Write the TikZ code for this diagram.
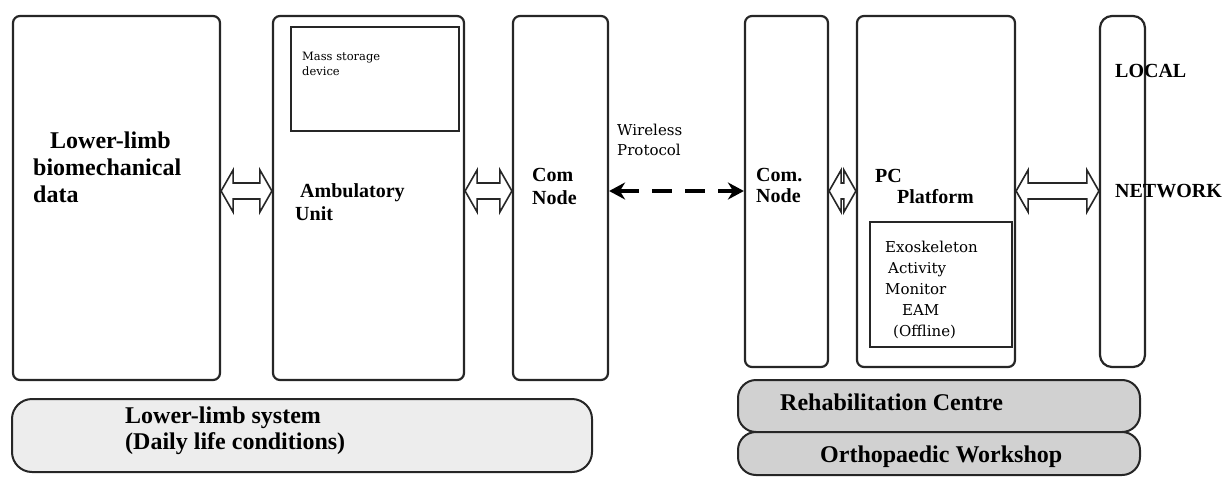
\documentclass[tikz,border=0pt]{standalone}
\usepackage{fontspec}
\setmainfont{Liberation Serif}
\newfontfamily\smallserif{DejaVu Serif}
\usetikzlibrary{arrows.meta,calc,positioning}

\begin{document}
\begin{tikzpicture}[x=1pt,y=-1pt,
  blk/.style={rectangle,rounded corners=7pt,draw=black!85,line width=2.2pt,inner sep=0pt},
  inbox/.style={rectangle,draw=black!85,line width=2.2pt,inner sep=0pt},
  bar/.style={rectangle,rounded corners=20pt,draw=black!85,line width=2pt,inner sep=0pt},
  txt/.style={inner sep=0pt,anchor=north west,align=left},
  big/.style={txt,font=\fontsize{24}{27}\selectfont\bfseries},
  mid/.style={txt,font=\fontsize{20}{23}\selectfont\bfseries},
  sml/.style={txt,font=\smallserif\fontsize{15}{21}\selectfont},
  hollow/.style={draw=black!85,line width=1.6pt,fill=white,
    to path={-- ($(\tikztostart)+(12,-21)$) -- ($(\tikztostart)+(12,-8)$)
      -- ($(\tikztotarget)+(-12,-8)$) -- ($(\tikztotarget)+(-12,-21)$)
      -- (\tikztotarget) -- ($(\tikztotarget)+(-12,21)$) -- ($(\tikztotarget)+(-12,8)$)
      -- ($(\tikztostart)+(12,8)$) -- ($(\tikztostart)+(12,21)$) -- cycle}},
  wireless/.style={line width=4pt,dash pattern=on 20pt off 13pt,
    {Stealth[length=16pt,width=17pt]}-{Stealth[length=16pt,width=17pt]}}]
\useasboundingbox (0,0) rectangle (1230,476);

% blocks
\node[blk,minimum width=207pt,minimum height=364pt] (data) at (116.5,198) {};
\node[blk,minimum width=191pt,minimum height=364pt] (amb) at (368.5,198) {};
\node[blk,minimum width=95pt,minimum height=364pt] (com) at (560.5,198) {};
\node[blk,minimum width=83pt,minimum height=351pt] (comr) at (786.5,191.5) {};
\node[blk,minimum width=158pt,minimum height=351pt] (pc) at (936,191.5) {};
\node[blk,rounded corners=12pt,minimum width=45pt,minimum height=351pt] (lan) at (1122.5,191.5) {};

\node[inbox,minimum width=168pt,minimum height=104pt] (mass) at (375,79) {};
\node[inbox,minimum width=142pt,minimum height=125pt] (eam) at (941,284.5) {};

% labels
\node[big] (datatxt) at (33,131.7) {\hspace*{17pt}Lower-limb\\biomechanical\\data};
\node[mid] (ambtxt) at (295,183.4) {\hspace*{5pt}Ambulatory\\Unit};
\node[mid] (comtxt) at (532,168.4) {Com\\Node};
\node[mid,font=\fontsize{20}{21}\selectfont\bfseries] (comrtxt) at (756,168.4) {Com.\\Node};
\node[mid,font=\fontsize{20}{21}\selectfont\bfseries] (pctxt) at (875,168.8) {PC\\\hspace*{22pt}Platform};
\node[mid] (lan1) at (1115,63.8) {LOCAL};
\node[mid] (lan2) at (1115,183.8) {NETWORK};
\node[txt,font=\smallserif\fontsize{11.5}{15}\selectfont] (masstxt) at (302,51.6) {Mass storage\\device};
\node[sml,font=\smallserif\fontsize{15}{20}\selectfont] (wltxt) at (617,123.6) {Wireless\\Protocol};
\node[sml] (eamtxt) at (885,240.6) {Exoskeleton\\\hspace*{3pt}Activity\\Monitor\\\hspace*{17pt}EAM\\\hspace*{8pt}(Offline)};

% connectors
\coordinate (ay) at (0,191);
\draw[hollow] (data.east |- ay) to (amb.west |- ay);
\draw[hollow] (amb.east |- ay) to (com.west |- ay);
\draw[hollow] (comr.east |- ay) to (pc.west |- ay);
\draw[hollow] (pc.east |- ay) to (lan.west |- ay);
\draw[wireless] (com.east |- ay) -- (comr.west |- ay);

% bottom bars
\node[bar,fill=black!7,minimum width=580pt,minimum height=73pt] (llbar) at (302,435.5) {};
\node[big,font=\fontsize{24}{26}\selectfont\bfseries] (lltxt) at (125,406.5) {Lower-limb system\\(Daily life conditions)};
\node[bar,rounded corners=18pt,fill=black!18,minimum width=402pt,minimum height=52pt] (rcbar) at (939,406) {};
\node[bar,rounded corners=18pt,fill=black!18,minimum width=402pt,minimum height=43pt] (owbar) at (939,453.5) {};
\node[big] (rctxt) at (780,393.7) {Rehabilitation Centre};
\node[big] (owtxt) at (820,445.7) {Orthopaedic Workshop};
\end{tikzpicture}
\end{document}
